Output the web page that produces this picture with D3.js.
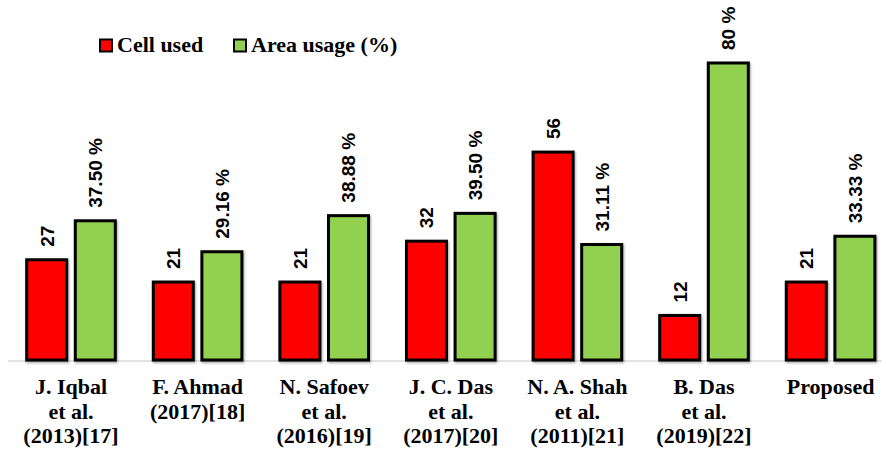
<!DOCTYPE html>
<html>
<head>
<meta charset="utf-8">
<script src="https://cdn.jsdelivr.net/npm/d3@7"></script>
<style>
  html, body { margin: 0; padding: 0; background: #fff; }
  svg { display: block; }
</style>
</head>
<body>
<svg id="chart" width="886" height="451"></svg>
<script>
// Comparison of QCA designs: cells used and area usage
const categories = [
  ["J. Iqbal", "et al.", "(2013)[17]"],
  ["F. Ahmad", "(2017)[18]"],
  ["N. Safoev", "et al.", "(2016)[19]"],
  ["J. C. Das", "et al.", "(2017)[20]"],
  ["N. A. Shah", "et al.", "(2011)[21]"],
  ["B. Das", "et al.", "(2019)[22]"],
  ["Proposed"]
];
const seriesNames = ["Cell used", "Area usage (%)"];
const cellUsed = [27, 21, 21, 32, 56, 12, 21];
const areaUsage = [37.50, 29.16, 38.88, 39.50, 31.11, 80, 33.33];
const cellLabels = ["27", "21", "21", "32", "56", "12", "21"];
const areaLabels = ["37.50 %", "29.16 %", "38.88 %", "39.50 %", "31.11 %", "80 %", "33.33 %"];
const colors = ["#ff0000", "#92d050"];

const svg = d3.select("#chart");

const keys = categories.map((c, i) => "c" + i);
const x = d3.scaleBand().domain(keys).range([7.7, 893.9]).padding(0);
const step = x.step();
const x1 = d3.scaleBand()
  .domain(seriesNames)
  .range([step / 2 - 44.3, step / 2 + 44.3])
  .paddingInner(0.177)
  .paddingOuter(0);

const y = d3.scaleLinear().domain([0, 80]).range([360, 63]);

const defs = svg.append("defs");
const f = defs.append("filter").attr("id", "shadow")
  .attr("x", "-20%").attr("y", "-10%").attr("width", "140%").attr("height", "120%");
f.append("feDropShadow").attr("dx", 1).attr("dy", 1.5)
  .attr("stdDeviation", 1).attr("flood-color", "#000").attr("flood-opacity", 0.35);

// baseline
svg.append("line")
  .attr("x1", 8).attr("x2", 882)
  .attr("y1", y(0) + 1).attr("y2", y(0) + 1)
  .attr("stroke", "#d9d9d9").attr("stroke-width", 1.5);

const data = keys.map((k, i) => ({
  key: k,
  values: [
    { s: seriesNames[0], v: cellUsed[i], label: cellLabels[i], color: colors[0] },
    { s: seriesNames[1], v: areaUsage[i], label: areaLabels[i], color: colors[1] }
  ]
}));

const groups = svg.append("g").selectAll("g")
  .data(data).join("g")
  .attr("transform", d => `translate(${x(d.key)},0)`);

groups.selectAll("rect")
  .data(d => d.values).join("rect")
  .attr("x", d => x1(d.s))
  .attr("width", x1.bandwidth())
  .attr("y", d => y(d.v))
  .attr("height", d => y(0) - y(d.v))
  .attr("fill", d => d.color)
  .attr("stroke", "#000")
  .attr("stroke-width", 3)
  .attr("filter", "url(#shadow)");

groups.selectAll("text.val")
  .data(d => d.values).join("text")
  .attr("class", "val")
  .attr("transform", d => `translate(${x1(d.s) + x1.bandwidth() / 2},${y(d.v) - 13}) rotate(-90)`)
  .attr("dy", "0.36em")
  .attr("text-anchor", "start")
  .attr("font-family", "'Liberation Sans', Arial, sans-serif")
  .attr("font-weight", "bold")
  .attr("font-size", "19px")
  .attr("fill", "#000")
  .text(d => d.label);

// category labels
const xAxis = svg.append("g");
categories.forEach((lines, i) => {
  const t = xAxis.append("text")
    .attr("x", x(keys[i]) + step / 2)
    .attr("y", 394)
    .attr("text-anchor", "middle")
    .attr("font-family", "'Liberation Serif', 'Times New Roman', serif")
    .attr("font-weight", "bold")
    .attr("font-size", "22px")
    .attr("fill", "#000");
  lines.forEach((ln, j) => {
    t.append("tspan")
      .attr("x", x(keys[i]) + step / 2)
      .attr("y", 394 + j * 24.5)
      .text(ln);
  });
});

// legend
const legend = svg.append("g");
const legendX = [100, 234];
seriesNames.forEach((s, i) => {
  legend.append("rect")
    .attr("x", legendX[i]).attr("y", 39.5)
    .attr("width", 12).attr("height", 12)
    .attr("fill", colors[i])
    .attr("stroke", "#000").attr("stroke-width", 2);
  legend.append("text")
    .attr("x", legendX[i] + 17).attr("y", 52)
    .attr("font-family", "'Liberation Serif', 'Times New Roman', serif")
    .attr("font-weight", "bold")
    .attr("font-size", "22px")
    .attr("fill", "#000")
    .text(s);
});
</script>
</body>
</html>
